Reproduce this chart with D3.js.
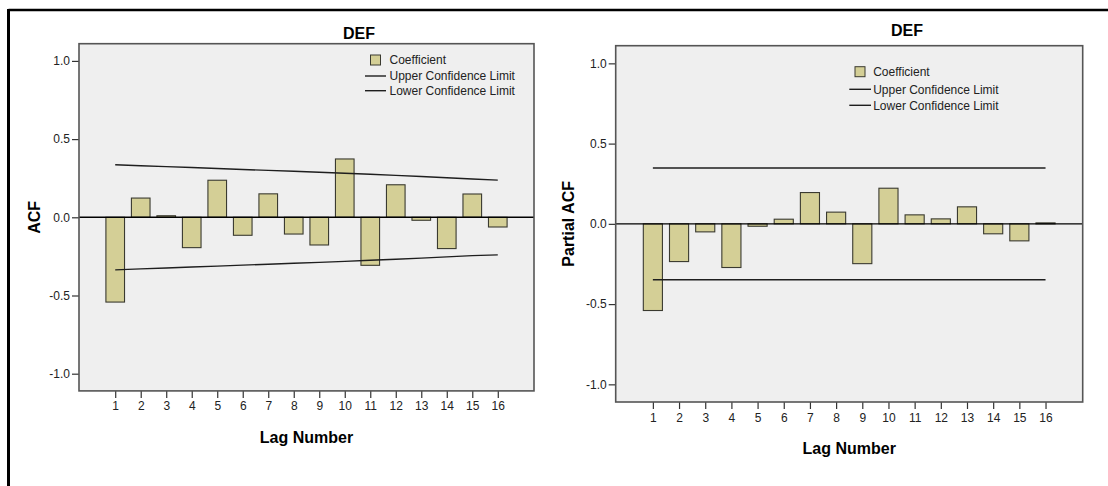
<!DOCTYPE html>
<html>
<head>
<meta charset="utf-8">
<script src="https://cdn.jsdelivr.net/npm/d3@7/dist/d3.min.js"></script>
<style>
  html, body { margin: 0; padding: 0; background: #ffffff; }
  svg { display: block; }
  text { font-family: "Liberation Sans", Arial, sans-serif; }
</style>
</head>
<body>
<svg id="chart" width="1108" height="486"></svg>
<script>
// ---- data ----
const lags = [1, 2, 3, 4, 5, 6, 7, 8, 9, 10, 11, 12, 13, 14, 15, 16];
const chartTitle = "DEF";
const acfValues = [-0.542, 0.123, 0.010, -0.194, 0.237, -0.115, 0.150, -0.107, -0.177, 0.373, -0.307, 0.208, -0.019, -0.200, 0.149, -0.062];
const acfUpper = [0.336, 0.330, 0.324, 0.318, 0.312, 0.306, 0.300, 0.294, 0.288, 0.282, 0.275, 0.268, 0.261, 0.253, 0.245, 0.238];
const acfLower = [-0.336, -0.330, -0.324, -0.318, -0.312, -0.306, -0.300, -0.294, -0.288, -0.282, -0.275, -0.268, -0.261, -0.253, -0.245, -0.240];
const pacfValues = [-0.540, -0.235, -0.050, -0.272, -0.015, 0.029, 0.195, 0.073, -0.248, 0.222, 0.056, 0.031, 0.106, -0.062, -0.106, 0.006];
const pacfUpper = [0.348, 0.348, 0.348, 0.348, 0.348, 0.348, 0.348, 0.348, 0.348, 0.348, 0.348, 0.348, 0.348, 0.348, 0.348, 0.348];
const pacfLower = [-0.348, -0.348, -0.348, -0.348, -0.348, -0.348, -0.348, -0.348, -0.348, -0.348, -0.348, -0.348, -0.348, -0.348, -0.348, -0.348];
const yTicks = [-1.0, -0.5, 0.0, 0.5, 1.0];
const yTickLabels = ["-1.0", "-0.5", "0.0", "0.5", "1.0"];
const legendLabels = ["Coefficient", "Upper Confidence Limit", "Lower Confidence Limit"];
const xAxisTitle = "Lag Number";

const svg = d3.select("#chart");
const FONT = '"Liberation Sans", Arial, sans-serif';

// outer frame (top and left edges)
svg.append("line").attr("x1", 8.5).attr("x2", 1108).attr("y1", 10).attr("y2", 10)
  .attr("stroke", "#000").attr("stroke-width", 2.5);
svg.append("line").attr("x1", 8.5).attr("x2", 8.5).attr("y1", 9).attr("y2", 486)
  .attr("stroke", "#000").attr("stroke-width", 3);

function drawPanel(cfg) {
  const g = svg.append("g");
  const b = cfg.box;
  const x = d3.scaleLinear().domain([-0.42, 17.42]).range([b.x, b.x + b.w]);
  const y = d3.scaleLinear().domain([-1.11, 1.11]).range([b.y + b.h, b.y]);
  const step = x(2) - x(1);
  const bw = step * 0.73;

  // plot background
  g.append("rect").attr("x", b.x).attr("y", b.y).attr("width", b.w).attr("height", b.h)
    .attr("fill", "#efefef").attr("stroke", "none");

  // y axis
  const yAxis = d3.axisLeft(y).tickValues(yTicks)
    .tickFormat((d, i) => yTickLabels[i])
    .tickSize(7).tickPadding(2);
  const ya = g.append("g").attr("transform", `translate(${b.x},0)`).call(yAxis);
  ya.select(".domain").remove();
  ya.selectAll("line").attr("stroke", "#333").attr("stroke-width", 1.2);
  ya.selectAll("text").attr("font-size", 12).attr("fill", "#222").attr("font-family", FONT);

  // x axis
  const xAxis = d3.axisBottom(x).tickValues(lags).tickFormat(d3.format("d"))
    .tickSize(7).tickPadding(4);
  const xa = g.append("g").attr("transform", `translate(0,${b.y + b.h})`).call(xAxis);
  xa.select(".domain").remove();
  xa.selectAll("line").attr("stroke", "#333").attr("stroke-width", 1.2);
  xa.selectAll("text").attr("font-size", 12).attr("fill", "#222").attr("font-family", FONT);

  // bars
  g.append("g").selectAll("rect").data(cfg.values).join("rect")
    .attr("x", (d, i) => x(lags[i]) - bw / 2)
    .attr("y", d => Math.min(y(d), y(0)))
    .attr("width", bw)
    .attr("height", d => Math.max(1, Math.abs(y(d) - y(0))))
    .attr("fill", "#d4cf96")
    .attr("stroke", "#3a3a30").attr("stroke-width", 1.1);

  // zero reference line
  g.append("line").attr("x1", b.x).attr("x2", b.x + b.w)
    .attr("y1", y(0)).attr("y2", y(0)).attr("stroke", "#000").attr("stroke-width", 1.4);

  // confidence limits
  const line = d3.line().x((d, i) => x(lags[i])).y(d => y(d));
  [cfg.upper, cfg.lower].forEach(arr => {
    g.append("path").datum(arr).attr("d", line)
      .attr("fill", "none").attr("stroke", "#1e1e1e").attr("stroke-width", 1.4);
  });

  // plot border
  g.append("rect").attr("x", b.x).attr("y", b.y).attr("width", b.w).attr("height", b.h)
    .attr("fill", "none").attr("stroke", "#555").attr("stroke-width", 1.6);

  // title
  g.append("text").attr("x", cfg.titleX).attr("y", cfg.titleY).attr("text-anchor", "middle")
    .attr("font-size", 16).attr("font-weight", "bold").attr("fill", "#000").text(chartTitle);

  // x axis title
  g.append("text").attr("x", b.x + b.w / 2).attr("y", b.y + b.h + 52).attr("text-anchor", "middle")
    .attr("font-size", 16).attr("font-weight", "bold").attr("fill", "#000").text(xAxisTitle);

  // y axis title
  g.append("text").attr("transform", `translate(${cfg.yTitleX},${y(0)}) rotate(-90)`)
    .attr("text-anchor", "middle").attr("font-size", 16).attr("font-weight", "bold")
    .attr("fill", "#000").text(cfg.yTitle);

  // legend
  const L = cfg.legend;
  g.append("rect").attr("x", L.sqX).attr("y", L.sqY).attr("width", 10).attr("height", 10)
    .attr("fill", "#d4cf96").attr("stroke", "#3a3a30").attr("stroke-width", 1);
  g.append("line").attr("x1", L.lineX1).attr("x2", L.lineX2).attr("y1", L.rowY[1]).attr("y2", L.rowY[1])
    .attr("stroke", "#1e1e1e").attr("stroke-width", 1.4);
  g.append("line").attr("x1", L.lineX1).attr("x2", L.lineX2).attr("y1", L.rowY[2]).attr("y2", L.rowY[2])
    .attr("stroke", "#1e1e1e").attr("stroke-width", 1.4);
  legendLabels.forEach((t, i) => {
    g.append("text").attr("x", L.textX).attr("y", L.rowY[i] + 4.3)
      .attr("font-size", 12).attr("fill", "#222").text(t);
  });
}

drawPanel({
  box: { x: 79, y: 43.7, w: 455, h: 347.2 },
  values: acfValues, upper: acfUpper, lower: acfLower,
  yTitle: "ACF", yTitleX: 39.5,
  titleX: 359, titleY: 38.5,
  legend: { sqX: 370.5, sqY: 55, lineX1: 365, lineX2: 386, textX: 389.5, rowY: [60, 76, 90.7] }
});

drawPanel({
  box: { x: 615.7, y: 45.7, w: 467, h: 356.3 },
  values: pacfValues, upper: pacfUpper, lower: pacfLower,
  yTitle: "Partial ACF", yTitleX: 573.5,
  titleX: 907, titleY: 36,
  legend: { sqX: 855, sqY: 66.7, lineX1: 849.3, lineX2: 871, textX: 873.2, rowY: [72, 89.3, 105.3] }
});
</script>
</body>
</html>
